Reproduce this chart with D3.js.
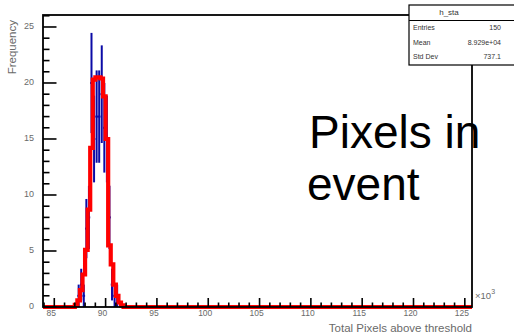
<!DOCTYPE html>
<html>
<head>
<meta charset="utf-8">
<script src="https://cdn.jsdelivr.net/npm/d3@7"></script>
<style>
  html, body { margin: 0; padding: 0; background: #fff; }
  svg { display: block; font-family: "Liberation Sans", Arial, sans-serif; }
</style>
</head>
<body>
<svg id="chart" width="514" height="336"></svg>
<script>
// Histogram bins (low edges, in thousands of pixels) and contents
const binLow = [87.0, 87.25, 87.5, 87.75, 88.0, 88.25, 88.5, 88.75, 89.0, 89.25,
                89.5, 89.75, 90.0, 90.25, 90.5, 90.75, 91.0, 91.25, 91.5];
const binWidth = 0.25;
const fitCounts  = [0.2, 0.6, 1.5, 2.9, 5.1, 8.7, 14.2, 20.3, 20.5, 20.5,
                    20.4, 18.8, 15.0, 5.5, 3.8, 2.0, 1.0, 0.4, 0.15];
const dataCounts = [0, 1, 2, 1, 7, 8, 20, 15, 17, 17,
                    19, 16, 15, 8, 2, 1, 1, 0, 0];

// Axis ranges and ticks
const xDomain = [83.9, 125.7];
const yDomain = [0, 26.07];
const xMajorTicks = [85, 90, 95, 100, 105, 110, 115, 120, 125];
const yMajorTicks = [0, 5, 10, 15, 20, 25];

// Stats box
const statsTitle = "h_sta";
const statsLabels = ["Entries", "Mean", "Std Dev"];
const statsValues = ["150", "8.929e+04", "737.1"];

const svg = d3.select("#chart");
const frame = { left: 43, top: 15, right: 472, bottom: 307 };

const x = d3.scaleLinear().domain(xDomain).range([frame.left, frame.right]);
const y = d3.scaleLinear().domain(yDomain).range([frame.bottom, frame.top]);

svg.append("clipPath").attr("id", "plotclip")
  .append("rect")
  .attr("x", frame.left).attr("y", frame.top - 2)
  .attr("width", frame.right - frame.left).attr("height", frame.bottom - frame.top + 4);

// Annotation text (frame is drawn over it)
const note = svg.append("text")
  .attr("font-size", 46).attr("fill", "#000");
note.append("tspan").attr("x", 309).attr("y", 148).text("Pixels in");
note.append("tspan").attr("x", 307).attr("y", 200).text("event");

const plot = svg.append("g").attr("clip-path", "url(#plotclip)");

// Data: error-bar markers (horizontal bar across bin, vertical ±sqrt(N))
const blue = "#0b0ba6";
const dataBins = binLow.map((lo, i) => ({ lo, hi: lo + binWidth, n: dataCounts[i] }))
  .filter(d => d.n > 0);
plot.selectAll("line.hbar").data(dataBins).join("line")
  .attr("class", "hbar")
  .attr("x1", d => x(d.lo)).attr("x2", d => x(d.hi))
  .attr("y1", d => y(d.n)).attr("y2", d => y(d.n))
  .attr("stroke", blue).attr("stroke-width", 2);
plot.selectAll("line.vbar").data(dataBins).join("line")
  .attr("class", "vbar")
  .attr("x1", d => x(d.lo + binWidth / 2)).attr("x2", d => x(d.lo + binWidth / 2))
  .attr("y1", d => y(d.n + Math.sqrt(d.n))).attr("y2", d => y(Math.max(0, d.n - Math.sqrt(d.n))))
  .attr("stroke", blue).attr("stroke-width", 2);

// Smoothed histogram drawn as a step outline over the full range
const steps = [[xDomain[0], 0]];
binLow.forEach((lo, i) => {
  steps.push([lo, steps[steps.length - 1][1]]);
  steps.push([lo, fitCounts[i]]);
  steps.push([lo + binWidth, fitCounts[i]]);
});
steps.push([binLow[binLow.length - 1] + binWidth, 0]);
steps.push([xDomain[1], 0]);
const stepLine = d3.line().x(d => x(d[0])).y(d => y(d[1]));
plot.append("path")
  .attr("d", stepLine(steps))
  .attr("fill", "none")
  .attr("stroke", "#ff0000")
  .attr("stroke-width", 4.2)
  .attr("stroke-linejoin", "miter");

// Axes
const labelColor = "#6a6a6a";
const axisG = svg.append("g");
// minor and major ticks on x (drawn upward into the plot)
axisG.selectAll("line.xt").data(d3.range(84, 126, 1)).join("line")
  .attr("x1", d => x(d)).attr("x2", d => x(d))
  .attr("y1", frame.bottom)
  .attr("y2", d => frame.bottom - (d % 5 === 0 ? 9 : 4.5))
  .attr("stroke", "#000").attr("stroke-width", 1.6);
axisG.selectAll("text.xl").data(xMajorTicks).join("text")
  .attr("x", d => x(d) - 3).attr("y", frame.bottom + 7)
  .attr("text-anchor", "middle")
  .attr("dominant-baseline", "middle")
  .attr("font-size", 8.5).attr("fill", labelColor)
  .text(d => d);

// y ticks (drawn rightward into the plot)
axisG.selectAll("line.yt").data(d3.range(0, 27, 1)).join("line")
  .attr("x1", frame.left)
  .attr("x2", d => frame.left + (d % 5 === 0 ? 13.5 : 6.5))
  .attr("y1", d => y(d)).attr("y2", d => y(d))
  .attr("stroke", "#000").attr("stroke-width", 1.6);
axisG.selectAll("text.yl").data(yMajorTicks).join("text")
  .attr("x", frame.left - 9).attr("y", d => y(d))
  .attr("text-anchor", "end")
  .attr("dominant-baseline", "middle")
  .attr("font-size", 9).attr("fill", labelColor)
  .text(d => d);

// Frame
svg.append("rect")
  .attr("x", frame.left).attr("y", frame.top)
  .attr("width", frame.right - frame.left).attr("height", frame.bottom - frame.top)
  .attr("fill", "none").attr("stroke", "#000").attr("stroke-width", 1.8);

// Axis titles
svg.append("text")
  .attr("x", frame.right).attr("y", 328.5)
  .attr("text-anchor", "end").attr("dominant-baseline", "middle")
  .attr("font-size", 11.5).attr("fill", labelColor)
  .text("Total Pixels above threshold");
svg.append("text")
  .attr("transform", `translate(13,${frame.top + 5}) rotate(-90)`)
  .attr("text-anchor", "end").attr("dominant-baseline", "middle")
  .attr("font-size", 11.5).attr("fill", labelColor)
  .text("Frequency");
const expo = svg.append("text")
  .attr("x", frame.right + 3).attr("y", 299)
  .attr("font-size", 9.5).attr("fill", labelColor);
expo.append("tspan").text("\u00d710");
expo.append("tspan").attr("dy", -5).attr("font-size", 7).text("3");

// Stats box
const box = svg.append("g");
box.append("rect")
  .attr("x", 409).attr("y", 5).attr("width", 110).attr("height", 60)
  .attr("fill", "#fff").attr("stroke", "#000").attr("stroke-width", 1.2);
box.append("line")
  .attr("x1", 409).attr("x2", 519).attr("y1", 20.5).attr("y2", 20.5)
  .attr("stroke", "#000").attr("stroke-width", 1);
box.append("text")
  .attr("x", 449).attr("y", 12.5)
  .attr("text-anchor", "middle").attr("dominant-baseline", "middle")
  .attr("font-size", 8).attr("fill", "#333")
  .text(statsTitle);
statsLabels.forEach((lab, i) => {
  const yy = 28 + i * 14.7;
  box.append("text").attr("x", 413).attr("y", yy)
    .attr("dominant-baseline", "middle")
    .attr("font-size", 7).attr("fill", "#333").text(lab);
  box.append("text").attr("x", 501).attr("y", yy)
    .attr("text-anchor", "end").attr("dominant-baseline", "middle")
    .attr("font-size", 7).attr("fill", "#333").text(statsValues[i]);
});
</script>
</body>
</html>
